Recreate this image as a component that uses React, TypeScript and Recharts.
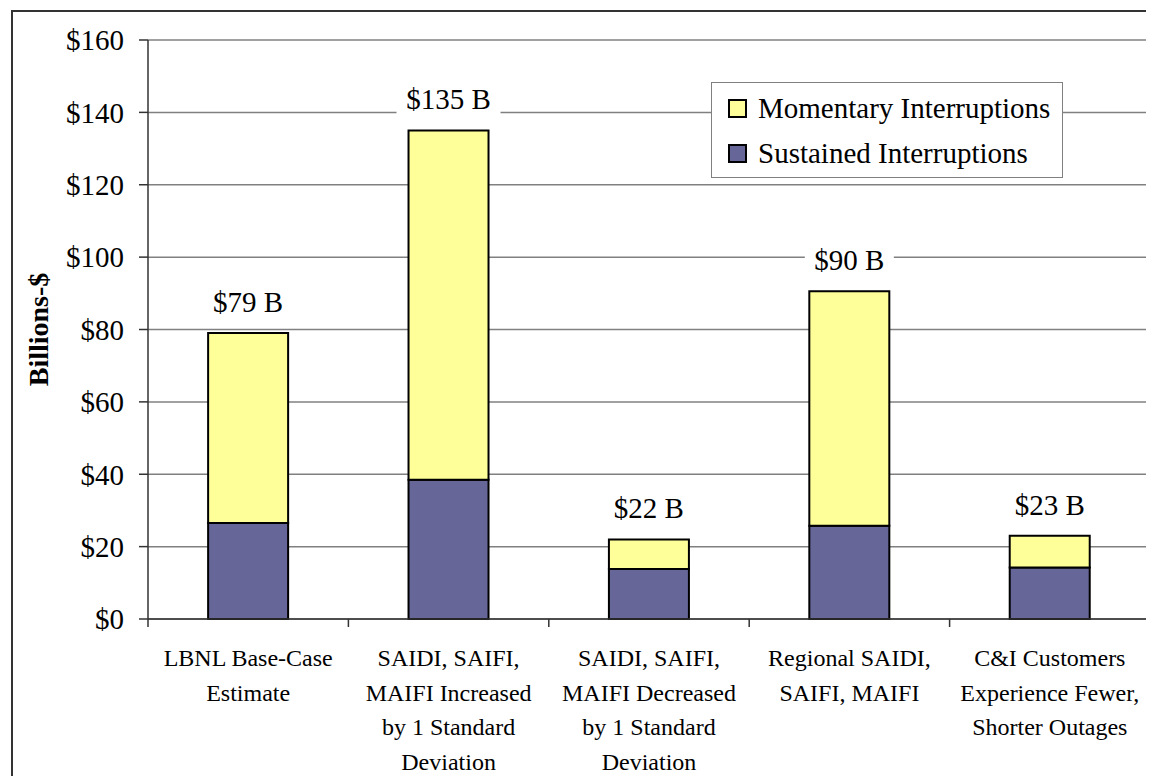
import React from "react";
import {
  BarChart,
  Bar,
  XAxis,
  YAxis,
  CartesianGrid,
  Legend,
  LabelList,
} from "recharts";

const SERIF = '"Liberation Serif", "Times New Roman", serif';

const categories = [
  "LBNL Base-Case\nEstimate",
  "SAIDI, SAIFI,\nMAIFI Increased\nby 1 Standard\nDeviation",
  "SAIDI, SAIFI,\nMAIFI Decreased\nby 1 Standard\nDeviation",
  "Regional SAIDI,\nSAIFI, MAIFI",
  "C&I Customers\nExperience Fewer,\nShorter Outages",
];
const sustained = [26.5, 38.5, 13.8, 25.8, 14.2];
const momentary = [52.5, 96.5, 8.2, 64.8, 8.8];
const totalLabels = ["$79 B", "$135 B", "$22 B", "$90 B", "$23 B"];
const yTicks = [0, 20, 40, 60, 80, 100, 120, 140, 160];

const CHART_W = 1146;
const CHART_H = 768;
const MARGIN = { top: 32, right: 4, left: 0, bottom: 0 };
const Y_AXIS_W = 140;

const data = categories.map((c, i) => ({
  name: c,
  sustained: sustained[i],
  momentary: momentary[i],
  label: totalLabels[i],
}));

const band = (CHART_W - MARGIN.left - MARGIN.right - Y_AXIS_W) / categories.length;

const CategoryTick = (props: any) => {
  const { x, y, payload, index } = props;
  const lines = String(payload.value).split("\n");
  return (
    <g>
      <line x1={x - band / 2} y1={y} x2={x - band / 2} y2={y + 8} stroke="#333" strokeWidth={1.5} />
      {index === categories.length - 1 && (
        <line x1={x + band / 2} y1={y} x2={x + band / 2} y2={y + 8} stroke="#333" strokeWidth={1.5} />
      )}
      <text x={x} y={y + 47} textAnchor="middle" fontFamily={SERIF} fontSize={24} fill="#000">
        {lines.map((l, i) => (
          <tspan key={i} x={x} dy={i === 0 ? 0 : 34.5}>
            {l}
          </tspan>
        ))}
      </text>
    </g>
  );
};

const TotalLabel = (props: any) => {
  const { x, y, width, index } = props;
  const cx = x + width / 2;
  const text = totalLabels[index];
  const w = text.length * 15 + 14;
  return (
    <g>
      <rect x={cx - w / 2} y={y - 48} width={w} height={40} fill="#fff" />
      <text x={cx} y={y - 21} textAnchor="middle" fontFamily={SERIF} fontSize={29} fill="#000">
        {text}
      </text>
    </g>
  );
};

const YLabel = (props: any) => {
  const { viewBox } = props;
  const cy = viewBox.y + viewBox.height / 2;
  return (
    <text
      x={30}
      y={cy}
      transform={`rotate(-90, 30, ${cy})`}
      textAnchor="middle"
      dominantBaseline="central"
      fontFamily={SERIF}
      fontWeight="bold"
      fontSize={28}
      fill="#000"
    >
      Billions-$
    </text>
  );
};

const LegendBox = (props: any) => {
  const items = props.payload || [];
  return (
    <div
      style={{
        width: 352,
        height: 96,
        border: "1px solid #808080",
        background: "#fff",
        boxSizing: "border-box",
        padding: "3px 0 0 16px",
        fontFamily: SERIF,
        fontSize: 29,
        lineHeight: "45px",
        color: "#000",
        textAlign: "left",
      }}
    >
      {items.map((it: any) => (
        <div key={it.value} style={{ display: "flex", alignItems: "center", height: 45 }}>
          <span
            style={{
              display: "inline-block",
              width: 15,
              height: 15,
              background: it.color,
              border: "2px solid #000",
              marginRight: 11,
            }}
          />
          <span>{it.value}</span>
        </div>
      ))}
    </div>
  );
};

export default function App() {
  return (
    <div style={{ position: "relative", width: CHART_W, height: CHART_H, overflow: "hidden" }}>
      <div
        style={{
          position: "absolute",
          left: 3,
          top: 2,
          width: 1300,
          height: 900,
          border: "2px solid #333",
        }}
      />
      <div style={{ position: "absolute", left: 0, top: 0 }}>
        <BarChart
          width={CHART_W}
          height={CHART_H}
          data={data}
          margin={MARGIN}
          barCategoryGap="30%"
        >
          <CartesianGrid vertical={false} stroke="#808080" strokeWidth={1.5} />
          <XAxis
            dataKey="name"
            height={157}
            interval={0}
            tickLine={false}
            tickSize={0}
            tickMargin={0}
            axisLine={{ stroke: "#333", strokeWidth: 1.5 }}
            tick={<CategoryTick />}
          />
          <YAxis
            width={Y_AXIS_W}
            domain={[0, 160]}
            ticks={yTicks}
            interval={0}
            tickFormatter={(v) => `$${v}`}
            tickSize={9}
            tickMargin={15}
            tickLine={{ stroke: "#333", strokeWidth: 1.5 }}
            axisLine={{ stroke: "#333", strokeWidth: 1.5 }}
            tick={{ fontFamily: SERIF, fontSize: 29, fill: "#000" }}
            label={{ content: <YLabel /> }}
          />
          <YAxis
            yAxisId="frame"
            orientation="right"
            width={0}
            domain={[0, 160]}
            tick={false}
            tickLine={false}
            axisLine={{ stroke: "#808080", strokeWidth: 1.5 }}
          />
          <Legend
            layout="vertical"
            verticalAlign="middle"
            align="center"
            wrapperStyle={{ position: "absolute", left: 703, top: 74, width: 352 }}
            content={<LegendBox />}
          />
          <Bar
            dataKey="sustained"
            name="Sustained Interruptions"
            stackId="a"
            fill="#666699"
            stroke="#000"
            strokeWidth={2}
            isAnimationActive={false}
          />
          <Bar
            dataKey="momentary"
            name="Momentary Interruptions"
            stackId="a"
            fill="#FFFF99"
            stroke="#000"
            strokeWidth={2}
            isAnimationActive={false}
          >
            <LabelList dataKey="label" content={<TotalLabel />} />
          </Bar>
        </BarChart>
      </div>
    </div>
  );
}
